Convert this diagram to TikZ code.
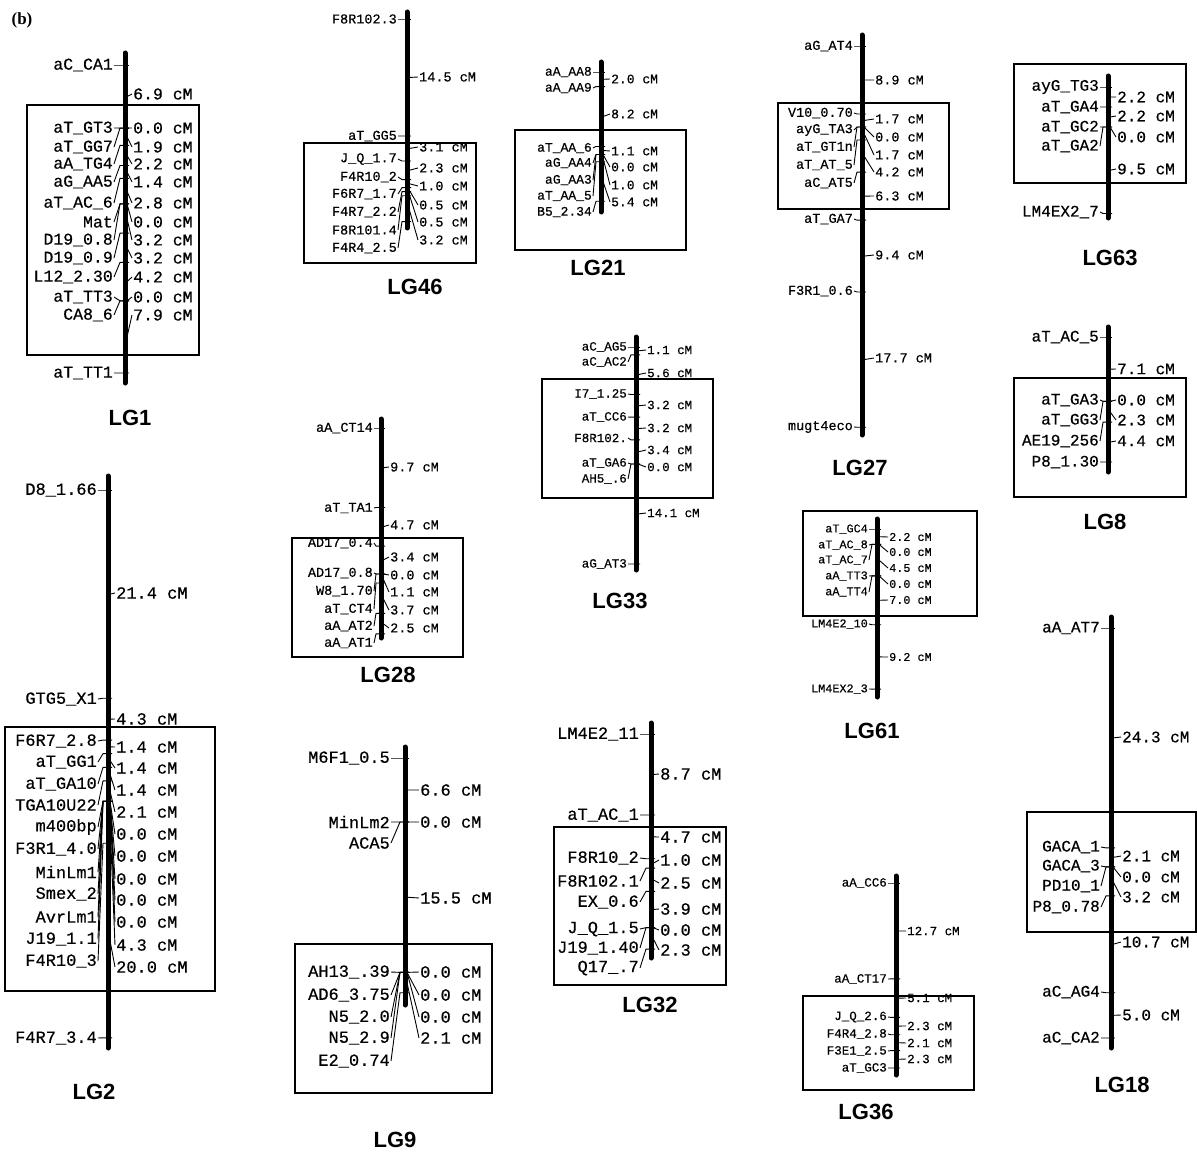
\documentclass[tikz,border=0pt]{standalone}
\usepackage{fontspec}
\setmainfont{Liberation Serif}
\setsansfont{Liberation Sans}
\newfontfamily\labfont{Liberation Mono}[FakeBold=0.5]

% one linkage group: id, bar x, first locus y, px per cM, label gap, distance gap, loci
\newcommand\lgmap[7]{%
  \xdef\ytrue{#3}%
  \foreach \yl/\nm/\dcm/\yd [count=\i] in {#7} {
    \node[locus,anchor=east] (#1-\i) at (#2-#5,\yl) {\nm};
    \draw[link] (#1-\i.east) -- (#2-5,\ytrue) -- (#2+4,\ytrue);
    \ifdim\dcm pt<0pt\else
      \pgfmathsetmacro\ymid{\ytrue+\dcm*#4/2}
      \node[gap,anchor=west] (#1-d\i) at (#2+#6,\yd) {\dcm~cM};
      \draw[link] (#2+2,\ymid) -- (#1-d\i.west);
      \pgfmathparse{\ytrue+\dcm*#4}\xdef\ytrue{\pgfmathresult}
    \fi
  }%
}

\begin{document}
\begin{tikzpicture}[
  x=1pt,y=-1pt,
  bar/.style={line width=5pt,line cap=round},
  frame/.style={line width=1.6pt},
  link/.style={line width=0.9pt},
  locus/.style={inner sep=1pt},
  gap/.style={inner sep=1pt},
  lab/.style={nodes={font=\labfont\fontsize{#1}{#1}\selectfont}},
  title/.style={font=\sffamily\bfseries\fontsize{22}{22}\selectfont}
]
  \useasboundingbox (0,0) rectangle (1197,1153);
  \node[font=\bfseries\fontsize{17}{17}\selectfont] (panel) at (22,20) {(b)};

  % LG1
  \begin{scope}[lab=16.5]
    \draw[frame] (27,105) rectangle (199,355);
    \draw[bar] (125,53) -- (125,383);
    \lgmap{lg1}{125}{65}{9.14}{11}{7}{
      65/aC\_CA1/6.9/94, 128/aT\_GT3/0.0/128, 147/aT\_GG7/1.9/147,
      164/aA\_TG4/2.2/164, 182/aG\_AA5/1.4/182, 203/aT\_AC\_6/2.8/203,
      222/Mat/0.0/222, 240/D19\_0.8/3.2/240, 258/D19\_0.9/3.2/258,
      277/L12\_2.30/4.2/277, 297/aT\_TT3/0.0/297, 315/CA8\_6/7.9/315,
      373/aT\_TT1/-1/0}
    \node[title] (lg1) at (130,418) {LG1};
  \end{scope}

  % LG2
  \begin{scope}[lab=17]
    \draw[frame] (5,727) rectangle (215,991);
    \draw[bar] (108,476) -- (108,1048);
    \lgmap{lg2}{108}{490}{9.73}{10}{7}{
      490/D8\_1.66/21.4/593, 699/GTG5\_X1/4.3/719, 741/F6R7\_2.8/1.4/747,
      762/aT\_GG1/1.4/768, 784/aT\_GA10/1.4/790, 805/TGA10U22/2.1/812,
      827/m400bp/0.0/834, 849/F3R1\_4.0/0.0/856, 872/MinLm1/0.0/879,
      894/Smex\_2/0.0/900, 917/AvrLm1/0.0/922, 939/J19\_1.1/4.3/945,
      961/F4R10\_3/20.0/967, 1038/F4R7\_3.4/-1/0}
    \node[title] (lg2) at (94,1092) {LG2};
  \end{scope}

  % LG46
  \begin{scope}[lab=13.5]
    \draw[frame] (304,143) rectangle (476,263);
    \draw[bar] (407,12) -- (407,228);
    \lgmap{lg46}{407}{19}{8.07}{9}{11}{
      19/F8R102.3/14.5/77, 136/aT\_GG5/3.1/147, 159/J\_Q\_1.7/2.3/168,
      177/F4R10\_2/1.0/186, 194/F6R7\_1.7/0.5/205, 212/F4R7\_2.2/0.5/222,
      230/F8R101.4/3.2/240, 248/F4R4\_2.5/-1/0}
    \node[title] (lg46) at (415,287) {LG46};
  \end{scope}

  % LG28
  \begin{scope}[lab=13.5]
    \draw[frame] (292,538) rectangle (463,657);
    \draw[bar] (381,419) -- (381,638);
    \lgmap{lg28}{381}{428}{8.2}{7}{8}{
      428/aA\_CT14/9.7/467, 508/aT\_TA1/4.7/525, 543/AD17\_0.4/3.4/557,
      573/AD17\_0.8/0.0/575, 591/W8\_1.70/1.1/592, 609/aT\_CT4/3.7/610,
      626/aA\_AT2/2.5/628, 643/aA\_AT1/-1/0}
    \node[title] (lg28) at (388,675) {LG28};
  \end{scope}

  % LG9
  \begin{scope}[lab=17]
    \draw[frame] (295,944) rectangle (492,1093);
    \draw[bar] (405,747) -- (405,1005);
    \lgmap{lg9}{405}{758}{9.7}{14}{14}{
      758/M6F1\_0.5/6.6/790, 822/MinLm2/0.0/822, 843/ACA5/15.5/898,
      972/AH13\_.39/0.0/972, 995/AD6\_3.75/0.0/995, 1017/N5\_2.0/0.0/1017,
      1038/N5\_2.9/2.1/1038, 1061/E2\_0.74/-1/0}
    \node[title] (lg9) at (395,1140) {LG9};
  \end{scope}

  % LG21
  \begin{scope}[lab=13]
    \draw[frame] (515,130) rectangle (686,250);
    \draw[bar] (601,62) -- (601,212);
    \lgmap{lg21}{601}{72}{7.3}{8}{9}{
      72/aA\_AA8/2.0/79, 88/aA\_AA9/8.2/114, 148/aT\_AA\_6/1.1/151,
      163/aG\_AA4/0.0/167, 180/aG\_AA3/1.0/185, 196/aT\_AA\_5/5.4/202,
      212/B5\_2.34/-1/0}
    \node[title] (lg21) at (598,268) {LG21};
  \end{scope}

  % LG33
  \begin{scope}[lab=12.5]
    \draw[frame] (542,379) rectangle (713,498);
    \draw[bar] (636,337) -- (636,570);
    \lgmap{lg33}{636}{347}{7.09}{8}{10}{
      347/aC\_AG5/1.1/350, 362/aC\_AC2/5.6/373, 394/I7\_1.25/3.2/405,
      417/aT\_CC6/3.2/428, 438/F8R102./3.4/450, 463/aT\_GA6/0.0/467,
      479/AH5\_.6/14.1/513, 564/aG\_AT3/-1/0}
    \node[title] (lg33) at (620,601) {LG33};
  \end{scope}

  % LG32
  \begin{scope}[lab=17]
    \draw[frame] (554,827) rectangle (726,985);
    \draw[bar] (651,723) -- (651,958);
    \lgmap{lg32}{651}{734}{9.31}{11}{8}{
      734/LM4E2\_11/8.7/774, 815/aT\_AC\_1/4.7/837, 858/F8R10\_2/1.0/860,
      881/F8R102.1/2.5/883, 902/EX\_0.6/3.9/909, 929/J\_Q\_1.5/0.0/930,
      948/J19\_1.40/2.3/950, 968/Q17\_.7/-1/0}
    \node[title] (lg32) at (650,1005) {LG32};
  \end{scope}

  % LG27
  \begin{scope}[lab=13.5]
    \draw[frame] (778,103) rectangle (949,209);
    \draw[bar] (862,35) -- (862,435);
    \lgmap{lg27}{862}{46}{7.64}{8}{12}{
      46/aG\_AT4/8.9/80, 113/V10\_0.70/1.7/119, 130/ayG\_TA3/0.0/137,
      147/aT\_GT1n/1.7/155, 165/aT\_AT\_5/4.2/172, 183/aC\_AT5/6.3/196,
      219/aT\_GA7/9.4/255, 291/F3R1\_0.6/17.7/358, 427/mugt4eco/-1/0}
    \node[title] (lg27) at (860,468) {LG27};
  \end{scope}

  % LG61
  \begin{scope}[lab=11.8]
    \draw[frame] (803,511) rectangle (977,616);
    \draw[bar] (877,519) -- (877,697);
    \lgmap{lg61}{877}{529}{6.99}{8}{11}{
      529/aT\_GC4/2.2/537, 545/aT\_AC\_8/0.0/552, 560/aT\_AC\_7/4.5/568,
      576/aA\_TT3/0.0/584, 592/aA\_TT4/7.0/600, 624/LM4E2\_10/9.2/657,
      689/LM4EX2\_3/-1/0}
    \node[title] (lg61) at (872,731) {LG61};
  \end{scope}

  % LG36
  \begin{scope}[lab=12.5]
    \draw[frame] (803,996) rectangle (974,1090);
    \draw[bar] (896,876) -- (896,1075);
    \lgmap{lg36}{896}{883}{7.55}{8}{10}{
      883/aA\_CC6/12.7/931, 979/aA\_CT17/5.1/998, 1017/J\_Q\_2.6/2.3/1026,
      1034/F4R4\_2.8/2.1/1043, 1051/F3E1\_2.5/2.3/1059, 1068/aT\_GC3/-1/0}
    \node[title] (lg36) at (866,1112) {LG36};
  \end{scope}

  % LG63
  \begin{scope}[lab=16]
    \draw[frame] (1014,64) rectangle (1186,183);
    \draw[bar] (1108,76) -- (1108,218);
    \lgmap{lg63}{1108}{87}{9.1}{8}{8}{
      87/ayG\_TG3/2.2/97, 107/aT\_GA4/2.2/116, 127/aT\_GC2/0.0/137,
      146/aT\_GA2/9.5/169, 212/LM4EX2\_7/-1/0}
    \node[title] (lg63) at (1110,258) {LG63};
  \end{scope}

  % LG8
  \begin{scope}[lab=16]
    \draw[frame] (1014,378) rectangle (1186,497);
    \draw[bar] (1108,327) -- (1108,472);
    \lgmap{lg8}{1108}{337}{9.06}{8}{8}{
      337/aT\_AC\_5/7.1/369, 400/aT\_GA3/0.0/400, 420/aT\_GG3/2.3/420,
      441/AE19\_256/4.4/441, 462/P8\_1.30/-1/0}
    \node[title] (lg8) at (1105,522) {LG8};
  \end{scope}

  % LG18
  \begin{scope}[lab=16]
    \draw[frame] (1027,812) rectangle (1196,932);
    \draw[bar] (1111,617) -- (1111,1048);
    \lgmap{lg18}{1111}{628}{9.05}{10}{10}{
      628/aA\_AT7/24.3/737, 847/GACA\_1/2.1/856, 866/GACA\_3/0.0/877,
      886/PD10\_1/3.2/897, 907/P8\_0.78/10.7/942, 992/aC\_AG4/5.0/1015,
      1038/aC\_CA2/-1/0}
    \node[title] (lg18) at (1122,1085) {LG18};
  \end{scope}
\end{tikzpicture}
\end{document}
